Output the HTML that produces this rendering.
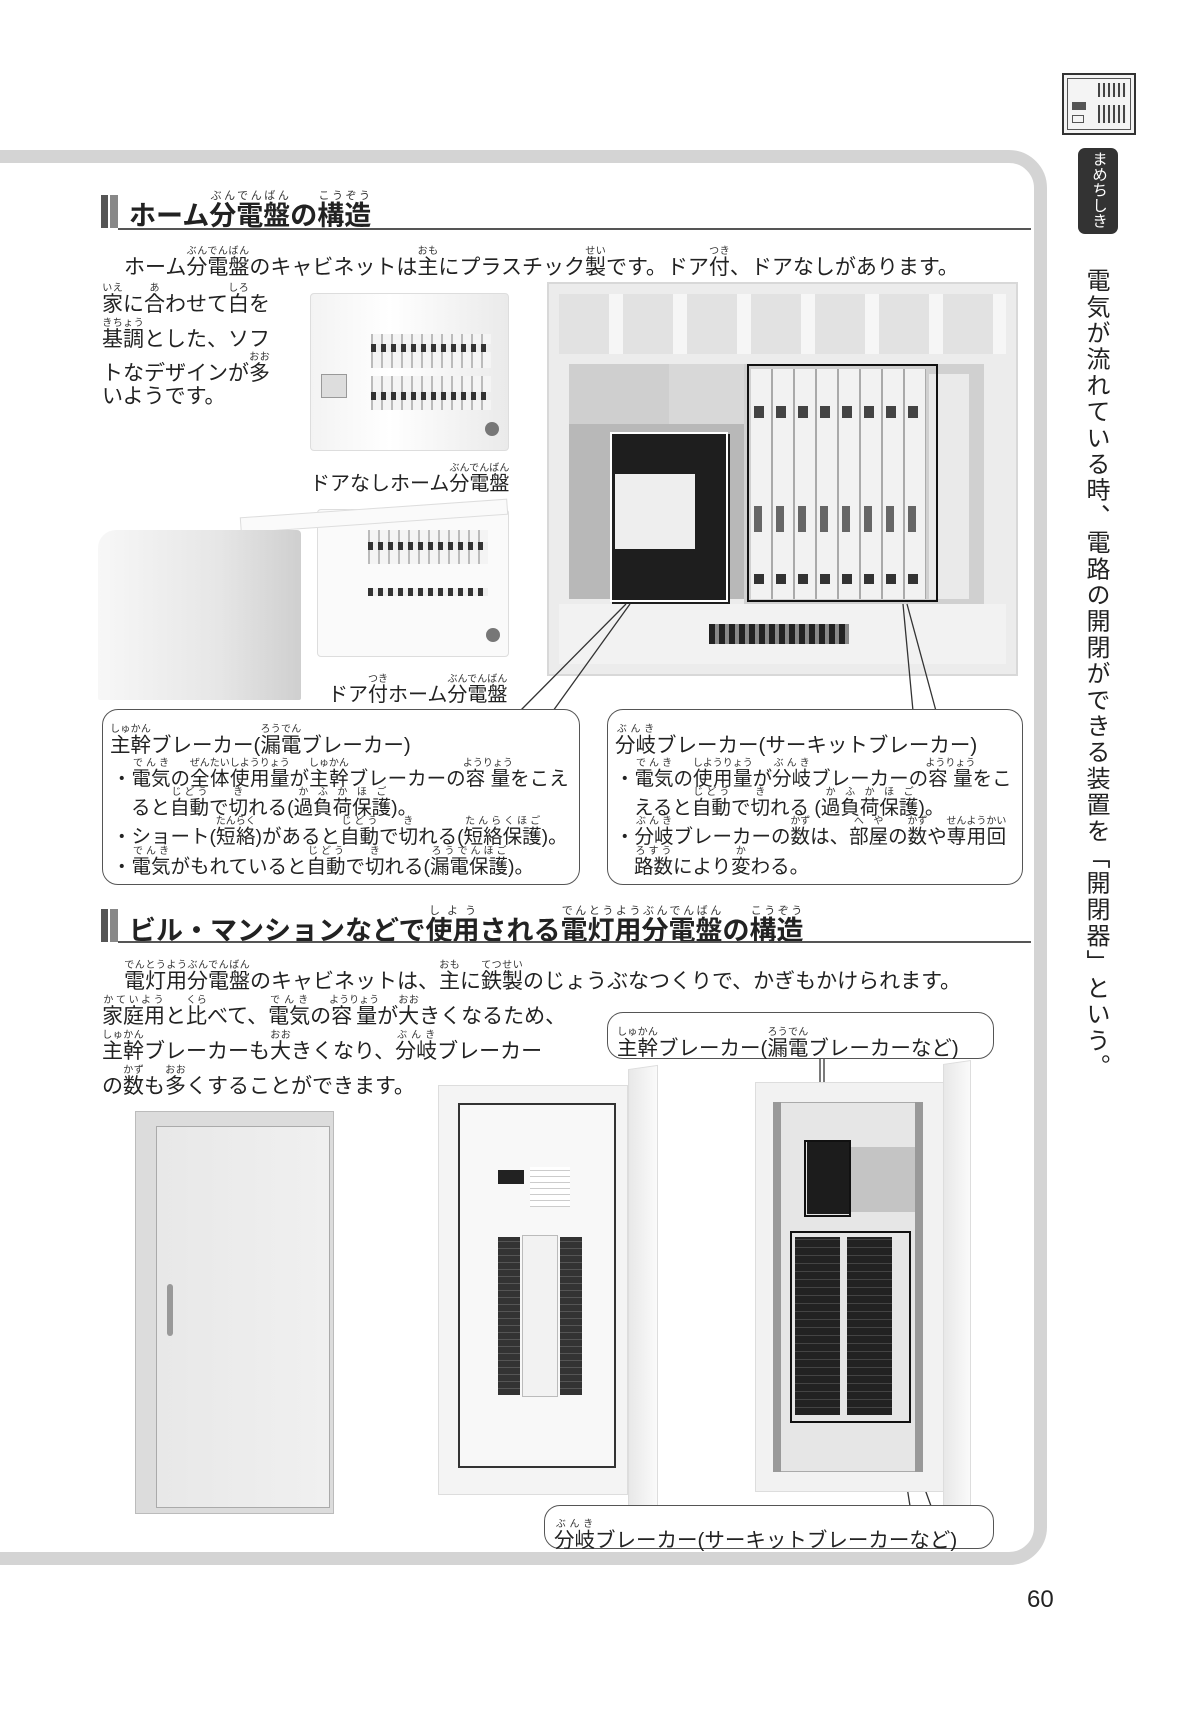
<!DOCTYPE html>
<html><head><meta charset="utf-8"><style>
*{margin:0;padding:0;box-sizing:border-box}
body{width:1182px;height:1733px;background:#fff;position:relative;overflow:hidden;font-family:"Liberation Sans","Noto Sans CJK JP",sans-serif;color:#222}
.a{position:absolute}
.t{position:absolute;white-space:nowrap;font-size:21px;line-height:1}
ruby rt{font-size:10px;color:#333}
.frame{position:absolute;left:-40px;top:150px;width:1087px;height:1415px;border:13px solid #d4d4d4;border-radius:0 38px 38px 0}
.bars{position:absolute;width:17px;height:33px;background:linear-gradient(90deg,#555 0 7px,#fff 7px 9px,#888 9px 17px)}
.hline{position:absolute;height:1.5px;background:#555}
.h{position:absolute;white-space:nowrap;font-size:27px;font-weight:bold;line-height:1}
.h rt{font-size:11px;font-weight:normal}
.box{position:absolute;border:1.5px solid #555;border-radius:16px;background:#fff}
.c{position:absolute;white-space:nowrap;font-size:19.5px;line-height:1}
.c rt{font-size:10px}
.blk{position:absolute;border:2px solid #111}
</style></head><body>

<div class="a" style="left:1062px;top:73px;width:74px;height:62px;border:2px solid #333;background:#f4f4f4">
  <div class="a" style="left:3px;top:3px;width:64px;height:52px;border:1px solid #555"></div>
  <div class="a" style="left:34px;top:8px;width:28px;height:14px;background:repeating-linear-gradient(90deg,#444 0 2px,#eee 2px 5px)"></div>
  <div class="a" style="left:34px;top:30px;width:28px;height:18px;background:repeating-linear-gradient(90deg,#444 0 2px,#eee 2px 5px)"></div>
  <div class="a" style="left:8px;top:27px;width:14px;height:8px;background:#555"></div>
  <div class="a" style="left:8px;top:40px;width:12px;height:8px;border:1px solid #555"></div>
</div>
<div class="a" style="left:1078px;top:148px;width:40px;height:86px;background:#333;border-radius:7px"></div>
<div class="a" style="left:1078px;top:151px;width:40px;height:84px;writing-mode:vertical-rl;color:#fff;font-size:15.5px;line-height:40px;text-align:left">まめちしき</div>
<div class="a" style="left:1078px;top:268px;width:34px;height:820px;writing-mode:vertical-rl;font-size:24px;line-height:34px;letter-spacing:2.2px;color:#222">電気が流れている時、電路の開閉ができる装置を「開閉器」という。</div>

<div class="frame"></div>

<div class="bars" style="left:101px;top:195px"></div>
<div class="h" style="left:129px;top:190px"><ruby>ホーム<rt></rt></ruby><ruby>分電盤<rt>ぶんでんばん</rt></ruby>の<ruby>構造<rt>こうぞう</rt></ruby></div>
<div class="hline" style="left:118px;top:228px;width:913px"></div>

<div class="t" style="left:124px;top:246px">ホーム<ruby>分電盤<rt>ぶんでんばん</rt></ruby>のキャビネットは<ruby>主<rt>おも</rt></ruby>にプラスチック<ruby>製<rt>せい</rt></ruby>です。ドア<ruby>付<rt>つき</rt></ruby>、ドアなしがあります。</div>
<div class="t" style="left:102px;top:283px"><ruby>家<rt>いえ</rt></ruby>に<ruby>合<rt>あ</rt></ruby>わせて<ruby>白<rt>しろ</rt></ruby>を</div>
<div class="t" style="left:102px;top:318px"><ruby>基調<rt>きちょう</rt></ruby>とした、ソフ</div>
<div class="t" style="left:102px;top:352px">トなデザインが<ruby>多<rt>おお</rt></ruby></div>
<div class="t" style="left:102px;top:386px">いようです。</div>

<div class="a" style="left:310px;top:293px;width:199px;height:158px;background:linear-gradient(90deg,#f3f3f3,#fff 40%,#eaeaea);border:1px solid #ddd;border-radius:4px">
  <div class="a" style="left:60px;top:40px;width:120px;height:34px;background:repeating-linear-gradient(90deg,#bbb 0 2px,#f4f4f4 2px 10px)"></div>
  <div class="a" style="left:60px;top:50px;width:120px;height:8px;background:repeating-linear-gradient(90deg,#333 0 5px,#eee 5px 10px)"></div>
  <div class="a" style="left:60px;top:82px;width:120px;height:34px;background:repeating-linear-gradient(90deg,#bbb 0 2px,#f4f4f4 2px 10px)"></div>
  <div class="a" style="left:60px;top:98px;width:120px;height:8px;background:repeating-linear-gradient(90deg,#333 0 5px,#eee 5px 10px)"></div>
  <div class="a" style="left:10px;top:80px;width:26px;height:24px;border:1px solid #999;background:#ddd"></div>
  <div class="a" style="left:174px;top:128px;width:14px;height:14px;border-radius:50%;background:#777"></div>
</div>
<div class="t" style="left:310px;top:463px;font-size:20px">ドアなしホーム<ruby>分電盤<rt>ぶんでんばん</rt></ruby></div>

<div class="a" style="left:317px;top:509px;width:192px;height:148px;background:#fafafa;border:1px solid #ddd;border-radius:4px">
  <div class="a" style="left:50px;top:20px;width:120px;height:34px;background:repeating-linear-gradient(90deg,#bbb 0 2px,#f4f4f4 2px 10px)"></div>
  <div class="a" style="left:50px;top:32px;width:120px;height:8px;background:repeating-linear-gradient(90deg,#333 0 5px,#eee 5px 10px)"></div>
  <div class="a" style="left:50px;top:78px;width:120px;height:8px;background:repeating-linear-gradient(90deg,#333 0 5px,#eee 5px 10px)"></div>
  <div class="a" style="left:168px;top:118px;width:14px;height:14px;border-radius:50%;background:#777"></div>
</div>
<div class="a" style="left:240px;top:508px;width:268px;height:16px;background:#fafafa;transform:rotate(-4deg);border:1px solid #ddd"></div>
<div class="a" style="left:98px;top:530px;width:203px;height:170px;background:linear-gradient(90deg,#f7f7f7,#e6e6e6 60%,#cfcfcf);border-radius:18px 4px 2px 2px"></div>
<div class="t" style="left:328px;top:674px;font-size:20px">ドア<ruby>付<rt>つき</rt></ruby>ホーム<ruby>分電盤<rt>ぶんでんばん</rt></ruby></div>

<div class="a" style="left:547px;top:282px;width:471px;height:394px;background:#ececec;border:2px solid #d8d8d8">
  <div class="a" style="left:10px;top:10px;width:447px;height:60px;background:repeating-linear-gradient(90deg,#e2e2e2 0 50px,#f6f6f6 50px 64px)"></div>
  <div class="a" style="left:20px;top:80px;width:120px;height:60px;background:#cfcfcf"></div>
  <div class="a" style="left:20px;top:140px;width:280px;height:175px;background:#b8b8b8"></div>
  <div class="a" style="left:120px;top:80px;width:80px;height:60px;background:#d8d8d8"></div>
  <div class="a" style="left:63px;top:150px;width:118px;height:170px;background:#1e1e1e"></div>
  <div class="a" style="left:66px;top:190px;width:80px;height:75px;background:#eee"></div>
  <div class="a" style="left:195px;top:80px;width:240px;height:240px;background:#d0d0d0"></div>
  <div class="a" style="left:202px;top:85px;width:175px;height:230px;background:repeating-linear-gradient(90deg,#f2f2f2 0 20px,#aaa 20px 22px)"></div>
  <div class="a" style="left:205px;top:122px;width:170px;height:12px;background:repeating-linear-gradient(90deg,#444 0 10px,transparent 10px 22px)"></div>
  <div class="a" style="left:205px;top:222px;width:170px;height:26px;background:repeating-linear-gradient(90deg,#666 0 8px,transparent 8px 22px)"></div>
  <div class="a" style="left:205px;top:290px;width:170px;height:10px;background:repeating-linear-gradient(90deg,#333 0 10px,transparent 10px 22px)"></div>
  <div class="a" style="left:380px;top:90px;width:40px;height:225px;background:#eaeaea"></div>
  <div class="a" style="left:10px;top:320px;width:447px;height:60px;background:#f2f2f2"></div>
  <div class="a" style="left:160px;top:340px;width:140px;height:20px;background:repeating-linear-gradient(90deg,#222 0 6px,#888 6px 10px)"></div>
</div>
<div class="blk" style="left:610px;top:432px;width:118px;height:170px;border-color:#fff"></div>
<div class="blk" style="left:747px;top:364px;width:191px;height:238px"></div>

<svg class="a" style="left:0;top:0" width="1182" height="1733">
<g stroke="#333" stroke-width="1.3" fill="none">
<line x1="626" y1="604" x2="520" y2="711"/><line x1="630" y1="604" x2="553" y2="711"/>
<line x1="903" y1="604" x2="913" y2="711"/><line x1="907" y1="604" x2="936" y2="711"/>
<line x1="820" y1="1059" x2="820" y2="1140"/><line x1="824" y1="1059" x2="824" y2="1140"/>
<line x1="897" y1="1423" x2="910" y2="1506"/><line x1="901" y1="1423" x2="931" y2="1506"/>
</g></svg>

<div class="box" style="left:102px;top:709px;width:478px;height:176px"></div>
<div class="c" style="left:110px;top:724px;font-size:20.5px"><ruby>主幹<rt>しゅかん</rt></ruby>ブレーカー(<ruby>漏電<rt>ろうでん</rt></ruby>ブレーカー)</div>
<div class="c" style="left:112px;top:758px">・<ruby>電気<rt>でんき</rt></ruby>の<ruby>全体<rt>ぜんたい</rt></ruby><ruby>使用量<rt>しようりょう</rt></ruby>が<ruby>主幹<rt>しゅかん</rt></ruby>ブレーカーの<ruby>容量<rt>ようりょう</rt></ruby>をこえ</div>
<div class="c" style="left:131px;top:787px">ると<ruby>自動<rt>じどう</rt></ruby>で<ruby>切<rt>き</rt></ruby>れる(<ruby>過負荷保護<rt>かふかほご</rt></ruby>)。</div>
<div class="c" style="left:112px;top:816px">・ショート(<ruby>短絡<rt>たんらく</rt></ruby>)があると<ruby>自動<rt>じどう</rt></ruby>で<ruby>切<rt>き</rt></ruby>れる(<ruby>短絡保護<rt>たんらくほご</rt></ruby>)。</div>
<div class="c" style="left:112px;top:846px">・<ruby>電気<rt>でんき</rt></ruby>がもれていると<ruby>自動<rt>じどう</rt></ruby>で<ruby>切<rt>き</rt></ruby>れる(<ruby>漏電保護<rt>ろうでんほご</rt></ruby>)。</div>

<div class="box" style="left:607px;top:709px;width:416px;height:176px"></div>
<div class="c" style="left:615px;top:724px;font-size:20.5px"><ruby>分岐<rt>ぶんき</rt></ruby>ブレーカー(サーキットブレーカー)</div>
<div class="c" style="left:615px;top:758px">・<ruby>電気<rt>でんき</rt></ruby>の<ruby>使用量<rt>しようりょう</rt></ruby>が<ruby>分岐<rt>ぶんき</rt></ruby>ブレーカーの<ruby>容量<rt>ようりょう</rt></ruby>をこ</div>
<div class="c" style="left:634px;top:787px">えると<ruby>自動<rt>じどう</rt></ruby>で<ruby>切<rt>き</rt></ruby>れる (<ruby>過負荷保護<rt>かふかほご</rt></ruby>)。</div>
<div class="c" style="left:615px;top:816px">・<ruby>分岐<rt>ぶんき</rt></ruby>ブレーカーの<ruby>数<rt>かず</rt></ruby>は、<ruby>部屋<rt>へや</rt></ruby>の<ruby>数<rt>かず</rt></ruby>や<ruby>専用回<rt>せんようかい</rt></ruby></div>
<div class="c" style="left:634px;top:846px"><ruby>路数<rt>ろすう</rt></ruby>により<ruby>変<rt>か</rt></ruby>わる。</div>

<div class="bars" style="left:101px;top:909px"></div>
<div class="h" style="left:129px;top:905px">ビル・マンションなどで<ruby>使用<rt>しよう</rt></ruby>される<ruby>電灯用分電盤<rt>でんとうようぶんでんばん</rt></ruby>の<ruby>構造<rt>こうぞう</rt></ruby></div>
<div class="hline" style="left:118px;top:941px;width:913px"></div>

<div class="t" style="left:124px;top:960px"><ruby>電灯用分電盤<rt>でんとうようぶんでんばん</rt></ruby>のキャビネットは、<ruby>主<rt>おも</rt></ruby>に<ruby>鉄製<rt>てつせい</rt></ruby>のじょうぶなつくりで、かぎもかけられます。</div>
<div class="t" style="left:102px;top:995px"><ruby>家庭用<rt>かていよう</rt></ruby>と<ruby>比<rt>くら</rt></ruby>べて、<ruby>電気<rt>でんき</rt></ruby>の<ruby>容量<rt>ようりょう</rt></ruby>が<ruby>大<rt>おお</rt></ruby>きくなるため、</div>
<div class="t" style="left:102px;top:1030px"><ruby>主幹<rt>しゅかん</rt></ruby>ブレーカーも<ruby>大<rt>おお</rt></ruby>きくなり、<ruby>分岐<rt>ぶんき</rt></ruby>ブレーカー</div>
<div class="t" style="left:102px;top:1065px">の<ruby>数<rt>かず</rt></ruby>も<ruby>多<rt>おお</rt></ruby>くすることができます。</div>

<div class="box" style="left:607px;top:1012px;width:387px;height:47px"></div>
<div class="c" style="left:617px;top:1027px;font-size:20.5px"><ruby>主幹<rt>しゅかん</rt></ruby>ブレーカー(<ruby>漏電<rt>ろうでん</rt></ruby>ブレーカーなど)</div>

<div class="a" style="left:135px;top:1111px;width:199px;height:403px;background:#dcdcdc;border:1px solid #bbb">
  <div class="a" style="left:20px;top:14px;width:174px;height:382px;background:linear-gradient(90deg,#e8e8e8,#f0f0f0);border:1px solid #aaa"></div>
  <div class="a" style="left:31px;top:172px;width:6px;height:52px;background:#999;border-radius:3px"></div>
</div>
<div class="a" style="left:438px;top:1067px;width:224px;height:460px">
  <div class="a" style="left:0;top:18px;width:190px;height:410px;background:#f4f4f4;border:1px solid #ddd"></div>
  <div class="a" style="left:20px;top:36px;width:158px;height:365px;background:#f8f8f8;border:2px solid #333"></div>
  <div class="a" style="left:190px;top:0;width:30px;height:460px;background:linear-gradient(90deg,#e8e8e8,#fafafa);border:1px solid #ddd;transform:skewY(-8deg)"></div>
  <div class="a" style="left:60px;top:103px;width:26px;height:14px;background:#222"></div>
  <div class="a" style="left:60px;top:170px;width:22px;height:158px;background:repeating-linear-gradient(0deg,#333 0 6px,#555 6px 7px)"></div>
  <div class="a" style="left:122px;top:170px;width:22px;height:158px;background:repeating-linear-gradient(0deg,#333 0 6px,#555 6px 7px)"></div>
  <div class="a" style="left:84px;top:168px;width:36px;height:162px;background:#f2f2f2;border:1px solid #bbb"></div>
  <div class="a" style="left:92px;top:100px;width:40px;height:40px;background:repeating-linear-gradient(0deg,#ccc 0 1px,#fff 1px 6px)"></div>
</div>
<div class="a" style="left:755px;top:1062px;width:220px;height:465px">
  <div class="a" style="left:0;top:20px;width:190px;height:410px;background:#f2f2f2;border:1px solid #ddd"></div>
  <div class="a" style="left:18px;top:40px;width:150px;height:370px;background:#e6e6e6;border:1px solid #aaa"></div>
  <div class="a" style="left:18px;top:40px;width:8px;height:370px;background:#999"></div>
  <div class="a" style="left:160px;top:40px;width:8px;height:370px;background:#999"></div>
  <div class="a" style="left:90px;top:85px;width:70px;height:65px;background:#c4c4c4"></div>
  <div class="a" style="left:52px;top:80px;width:42px;height:72px;background:#1c1c1c"></div>
  <div class="a" style="left:40px;top:175px;width:45px;height:178px;background:repeating-linear-gradient(0deg,#222 0 7px,#444 7px 8px)"></div>
  <div class="a" style="left:92px;top:175px;width:45px;height:178px;background:repeating-linear-gradient(0deg,#222 0 7px,#444 7px 8px)"></div>
  <div class="a" style="left:188px;top:0;width:28px;height:465px;background:linear-gradient(90deg,#e8e8e8,#fafafa);border:1px solid #ddd;transform:skewY(-8deg)"></div>
</div>
<div class="blk" style="left:804px;top:1140px;width:47px;height:77px"></div>
<div class="blk" style="left:790px;top:1231px;width:121px;height:192px"></div>

<div class="box" style="left:544px;top:1505px;width:450px;height:44px"></div>
<div class="c" style="left:554px;top:1519px;font-size:20.5px"><ruby>分岐<rt>ぶんき</rt></ruby>ブレーカー(サーキットブレーカーなど)</div>

<div class="t" style="left:1027px;top:1588px;font-size:24px">60</div>
</body></html>
